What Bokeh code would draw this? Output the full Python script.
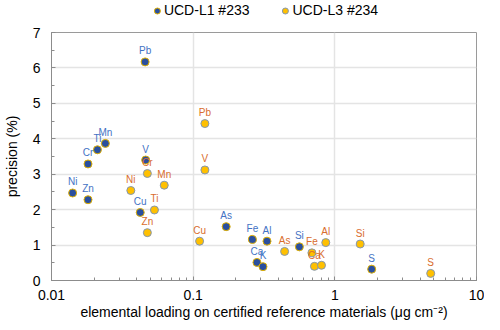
from bokeh.plotting import figure
from bokeh.layouts import column
from bokeh.models import (Range1d, Legend, LegendItem, SingleIntervalTicker,
                          CustomJSTickFormatter, ColumnDataSource, LogTicker)
from bokeh.core.properties import value
from bokeh.embed import file_html
from bokeh.resources import INLINE

# UCD-L1 #233
elements_l1 = ["Pb", "Mn", "Ti", "Cr", "V", "Ni", "Zn", "Cu", "As", "Fe", "Al", "Ca", "K", "Si", "S"]
loading_l1 = [0.0458, 0.0240, 0.0211, 0.0181, 0.0462, 0.0141, 0.0181, 0.0423, 0.171, 0.262, 0.332, 0.282, 0.311, 0.562, 1.82]
precision_l1 = [6.17, 3.87, 3.69, 3.29, 3.40, 2.47, 2.28, 1.92, 1.52, 1.16, 1.11, 0.51, 0.39, 0.95, 0.32]

# UCD-L3 #234
elements_l3 = ["Pb", "V", "Cr", "Mn", "Ni", "Ti", "Zn", "Cu", "As", "Fe", "Ca", "K", "Al", "Si", "S"]
loading_l3 = [0.121, 0.121, 0.0475, 0.0625, 0.0363, 0.0533, 0.0475, 0.111, 0.442, 0.689, 0.718, 0.805, 0.863, 1.51, 4.75]
precision_l3 = [4.43, 3.12, 3.02, 2.69, 2.54, 1.99, 1.35, 1.11, 0.82, 0.78, 0.40, 0.43, 1.07, 1.03, 0.20]

series_names = ["UCD-L1 #233", "UCD-L3 #234"]
x_label = "elemental loading on certified reference materials (\u03bcg cm\u207b\u00b2)"
y_label = "precision (%)"

FONT = "Liberation Sans"
L1_STYLE = dict(size=8, fill_color="#2a4f9e", line_color="#e0b000", line_width=1)
L3_STYLE = dict(size=8, fill_color="#ffc000", line_color="#8497b0", line_width=1)

p = figure(width=484, height=302, x_axis_type="log",
           x_range=Range1d(0.01, 10), y_range=Range1d(0, 7),
           output_backend="svg", toolbar_location=None,
           min_border_left=43, min_border_right=8,
           min_border_top=12, min_border_bottom=42)
p.background_fill_color = "white"
p.border_fill_color = "white"
p.outline_line_color = "#9a9a9a"
p.outline_line_width = 1

# grids
p.xgrid.grid_line_color = "#e4e4e4"
p.ygrid.grid_line_color = "#e4e4e4"
p.xgrid.grid_line_width = 1.5
p.ygrid.grid_line_width = 1.5

# axes
p.yaxis.ticker = SingleIntervalTicker(interval=1, num_minor_ticks=2)
p.xaxis.ticker = LogTicker(num_minor_ticks=10)
p.xaxis.formatter = CustomJSTickFormatter(code="return String(parseFloat(tick.toPrecision(6)));")
for ax in (p.xaxis[0], p.yaxis[0]):
    ax.axis_line_color = "#8c8c8c"
    ax.major_tick_line_color = "#8c8c8c"
    ax.minor_tick_line_color = "#8c8c8c"
    ax.major_tick_in = 4
    ax.major_tick_out = 0
    ax.minor_tick_in = 3
    ax.minor_tick_out = 0
    ax.major_label_text_font = FONT
    ax.major_label_text_font_size = "14px"
    ax.major_label_text_color = "#000000"
    ax.axis_label_text_font = FONT
    ax.axis_label_text_font_size = "14px"
    ax.axis_label_text_font_style = "normal"
    ax.axis_label_text_color = "#000000"
p.xaxis.axis_label = x_label
p.yaxis.axis_label = y_label
p.xaxis.major_label_standoff = 9
p.xaxis.axis_label_standoff = 1
p.yaxis.major_label_standoff = 11
p.yaxis.axis_label_standoff = 10

src1 = ColumnDataSource(dict(x=loading_l1, y=precision_l1, t=elements_l1))
src3 = ColumnDataSource(dict(x=loading_l3, y=precision_l3, t=elements_l3))

p.scatter("x", "y", source=src1, **L1_STYLE)
p.text("x", "y", text="t", source=src1, text_font=value(FONT),
       text_font_size="10px", text_color="#4472c4", text_align="center",
       text_baseline="alphabetic", y_offset=-11)
p.scatter("x", "y", source=src3, **L3_STYLE)
p.text("x", "y", text="t", source=src3, text_font=value(FONT),
       text_font_size="10px", text_color="#d96d2e", text_align="center",
       text_baseline="alphabetic", y_offset=-11)

# legend strip above the chart (its ranges show none of the points)
lf = figure(width=484, height=20, x_range=Range1d(0, 1), y_range=Range1d(-2, -1),
            output_backend="svg", toolbar_location=None,
            x_axis_location=None, y_axis_location=None,
            min_border=0)
lf.outline_line_color = None
lf.xgrid.visible = False
lf.ygrid.visible = False
g1 = lf.scatter("x", "y", source=src1, **L1_STYLE)
g3 = lf.scatter("x", "y", source=src3, **L3_STYLE)
legend = Legend(items=[LegendItem(label=series_names[0], renderers=[g1]),
                       LegendItem(label=series_names[1], renderers=[g3])],
                orientation="horizontal", location="center",
                border_line_color=None, background_fill_alpha=0,
                label_text_font=FONT, label_text_font_size="14px",
                label_text_color="#000000",
                glyph_width=15, glyph_height=15, label_standoff=0,
                label_height=15, spacing=28, padding=0, margin=0)
lf.add_layout(legend)

layout = column(lf, p, spacing=0)
open("out.html", "w").write(file_html(layout, INLINE))
